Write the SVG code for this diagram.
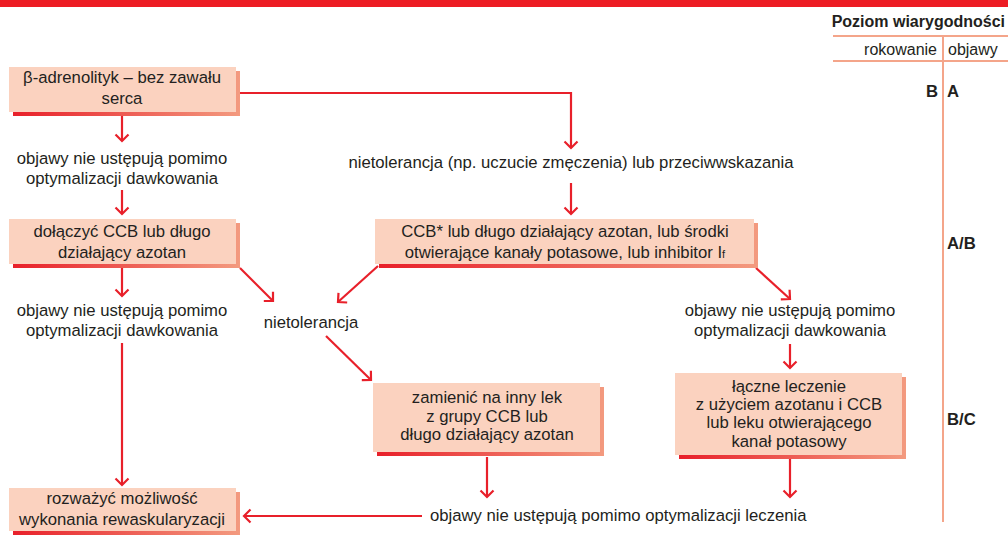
<svg xmlns="http://www.w3.org/2000/svg" width="1008" height="535" viewBox="0 0 1008 535">
<defs>
<linearGradient id="sh" x1="0" y1="0" x2="1" y2="0">
<stop offset="0" stop-color="#e8202a"/>
<stop offset="1" stop-color="#f39a7f"/>
</linearGradient>
<marker id="ah" markerUnits="userSpaceOnUse" markerWidth="16" markerHeight="16" viewBox="-10 -8 12 16" refX="0" refY="0" orient="auto">
<path d="M-6.5,-6.5 L0,0 L-6.5,6.5" fill="none" stroke="#e8202a" stroke-width="2.2"/>
</marker>
<style>
text{font-family:"Liberation Sans Narrow","Liberation Sans",Arial,sans-serif;font-size:16.7px;fill:#231f20}
.c{text-anchor:middle}
.h{font-size:16px}
.b{font-weight:bold}
.box{fill:#fbd2bf}
.shadow{fill:url(#sh)}
.conn{fill:none;stroke:#e8202a;stroke-width:2.2;marker-end:url(#ah)}
.rule{stroke:#f4a58a;stroke-width:2;fill:none}
</style>
</defs>
<rect x="0" y="0" width="1008" height="7" fill="#ed1c24"/>
<g id="legend">
<text x="1005" y="27" class="b h" text-anchor="end">Poziom wiarygodności</text>
<line class="rule" x1="833" y1="36" x2="1008" y2="36"/>
<text x="937" y="55" class="h" text-anchor="end">rokowanie</text>
<text x="948" y="55" class="h">objawy</text>
<line class="rule" x1="833" y1="61" x2="1008" y2="61"/>
<line class="rule" x1="943" y1="36" x2="943" y2="522"/>
<text x="938" y="97" class="b" text-anchor="end">B</text>
<text x="947" y="97" class="b">A</text>
<text x="947" y="249" class="b">A/B</text>
<text x="947" y="425" class="b">B/C</text>
</g>
<g id="connectors">
<line class="conn" x1="122" y1="116" x2="122" y2="141"/>
<line class="conn" x1="122" y1="190" x2="122" y2="214"/>
<line class="conn" x1="122" y1="268" x2="122" y2="296"/>
<line class="conn" x1="122" y1="343" x2="122" y2="485"/>
<polyline class="conn" points="240,93 571,93 571,148"/>
<line class="conn" x1="571" y1="183" x2="571" y2="214"/>
<line class="conn" x1="240" y1="268" x2="273" y2="301"/>
<line class="conn" x1="378" y1="266" x2="338" y2="302"/>
<line class="conn" x1="326" y1="336" x2="371" y2="380"/>
<line class="conn" x1="756" y1="268" x2="790" y2="299"/>
<line class="conn" x1="790" y1="344" x2="790" y2="368"/>
<line class="conn" x1="487" y1="457" x2="487" y2="497"/>
<line class="conn" x1="790" y1="459" x2="790" y2="497"/>
<line class="conn" x1="422" y1="516" x2="244" y2="516"/>
</g>
<g id="n1">
<rect class="shadow" x="13" y="71" width="227" height="45"/>
<rect class="box" x="9" y="67" width="227" height="45"/>
<text x="122" y="83" class="c">β-adrenolityk – bez zawału</text>
<text x="122" y="104" class="c">serca</text>
</g>
<g id="t1">
<text x="122" y="164" class="c">objawy nie ustępują pomimo</text>
<text x="122" y="184" class="c">optymalizacji dawkowania</text>
</g>
<g id="n2">
<rect class="shadow" x="13" y="223" width="227" height="45"/>
<rect class="box" x="9" y="219" width="227" height="45"/>
<text x="122" y="237" class="c">dołączyć CCB lub długo</text>
<text x="122" y="258" class="c">działający azotan</text>
</g>
<g id="t2">
<text x="122" y="316" class="c">objawy nie ustępują pomimo</text>
<text x="122" y="336" class="c">optymalizacji dawkowania</text>
</g>
<g id="t3">
<text x="571" y="168" class="c">nietolerancja (np. uczucie zmęczenia) lub przeciwwskazania</text>
</g>
<g id="n3">
<rect class="shadow" x="379" y="223" width="379" height="45"/>
<rect class="box" x="375" y="219" width="379" height="45"/>
<text x="565" y="237" class="c">CCB* lub długo działający azotan, lub środki</text>
<text x="565" y="258" class="c">otwierające kanały potasowe, lub inhibitor I<tspan font-size="11">f</tspan></text>
</g>
<g id="t4">
<text x="311" y="328" class="c">nietolerancja</text>
</g>
<g id="t5">
<text x="790" y="316" class="c">objawy nie ustępują pomimo</text>
<text x="790" y="336" class="c">optymalizacji dawkowania</text>
</g>
<g id="n4">
<rect class="shadow" x="377" y="387" width="227" height="69"/>
<rect class="box" x="373" y="383" width="227" height="69"/>
<text x="487" y="403" class="c">zamienić na inny lek</text>
<text x="487" y="422" class="c">z grupy CCB lub</text>
<text x="487" y="440" class="c">długo działający azotan</text>
</g>
<g id="n5">
<rect class="shadow" x="679" y="377" width="227" height="82"/>
<rect class="box" x="675" y="373" width="227" height="82"/>
<text x="789" y="392" class="c">łączne leczenie</text>
<text x="789" y="410" class="c">z użyciem azotanu i CCB</text>
<text x="789" y="428" class="c">lub leku otwierającego</text>
<text x="789" y="447" class="c">kanał potasowy</text>
</g>
<g id="n6">
<rect class="shadow" x="13" y="492" width="227" height="43"/>
<rect class="box" x="9" y="488" width="227" height="43"/>
<text x="122" y="504" class="c">rozważyć możliwość</text>
<text x="122" y="525" class="c">wykonania rewaskularyzacji</text>
</g>
<g id="t6">
<text x="430" y="521">objawy nie ustępują pomimo optymalizacji leczenia</text>
</g>
</svg>
